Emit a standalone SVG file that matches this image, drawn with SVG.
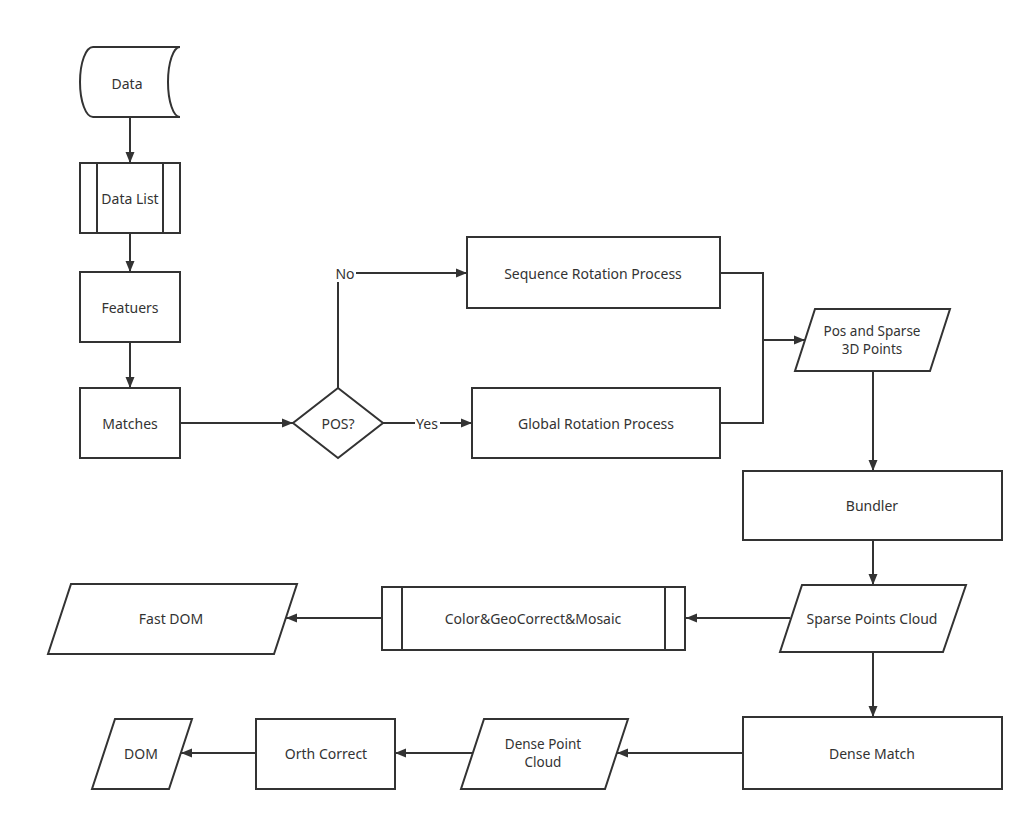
<svg xmlns="http://www.w3.org/2000/svg" width="1034" height="822" viewBox="0 0 1034 822">
<style>
.s{fill:#fff;stroke:#333;stroke-width:2}
.l{fill:none;stroke:#333;stroke-width:2}
.t{font-family:"Noto Sans","Open Sans",sans-serif;font-size:14px;fill:#333;text-anchor:middle;dominant-baseline:central}
.t2{font-size:13.5px}
</style>
<defs>
<marker id="a" markerUnits="userSpaceOnUse" markerWidth="12" markerHeight="10" refX="11" refY="5" orient="auto">
<path d="M0,0.5 L11,5 L0,9.5 z" fill="#333"/>
</marker>
</defs>
<rect width="1034" height="822" fill="#fff"/>
<g id="connectors">
<path class="l" d="M130,117 V163" marker-end="url(#a)"/>
<path class="l" d="M130,233 V272" marker-end="url(#a)"/>
<path class="l" d="M130,342 V388" marker-end="url(#a)"/>
<path class="l" d="M180,423 H293" marker-end="url(#a)"/>
<path class="l" d="M338,388 V273 H467" marker-end="url(#a)"/>
<path class="l" d="M383,423 H472" marker-end="url(#a)"/>
<path class="l" d="M720,273 H763 V340 H805" marker-end="url(#a)"/>
<path class="l" d="M720,423 H763 V340"/>
<path class="l" d="M873,371 V471" marker-end="url(#a)"/>
<path class="l" d="M873,540 V585" marker-end="url(#a)"/>
<path class="l" d="M790,618 H686" marker-end="url(#a)"/>
<path class="l" d="M382,618 H286" marker-end="url(#a)"/>
<path class="l" d="M873,652 V717" marker-end="url(#a)"/>
<path class="l" d="M743,753 H617" marker-end="url(#a)"/>
<path class="l" d="M473,753 H395" marker-end="url(#a)"/>
<path class="l" d="M256,753 H181" marker-end="url(#a)"/>
<rect x="335" y="264" width="21" height="18" fill="#fff"/>
<text class="t" x="345" y="273">No</text>
<rect x="415" y="414" width="25" height="18" fill="#fff"/>
<text class="t" x="427" y="423">Yes</text>
</g>
<g id="data">
<path class="s" d="M93,47 H180 A12,35 0 0 0 180,117 H93 A13,35 0 0 1 93,47 Z"/>
<text class="t" x="127" y="83">Data</text>
</g>
<g id="datalist">
<rect class="s" x="80" y="163" width="100" height="70"/>
<path class="l" d="M97,163 V233 M163,163 V233"/>
<text class="t" x="130" y="198">Data List</text>
</g>
<g id="featuers">
<rect class="s" x="80" y="272" width="100" height="70"/>
<text class="t" x="130" y="307">Featuers</text>
</g>
<g id="matches">
<rect class="s" x="80" y="388" width="100" height="70"/>
<text class="t" x="130" y="423">Matches</text>
</g>
<g id="pos">
<path class="s" d="M338,388 L383,423 L338,458 L293,423 Z"/>
<text class="t" x="338" y="423">POS?</text>
</g>
<g id="seq">
<rect class="s" x="467" y="237" width="253" height="71"/>
<text class="t" x="593" y="273">Sequence Rotation Process</text>
</g>
<g id="global">
<rect class="s" x="472" y="388" width="248" height="70"/>
<text class="t" x="596" y="423">Global Rotation Process</text>
</g>
<g id="possparse">
<path class="s" d="M815,309 H950 L930,371 H795 Z"/>
<text class="t t2" x="872" y="331">Pos and Sparse</text>
<text class="t t2" x="872" y="349">3D Points</text>
</g>
<g id="bundler">
<rect class="s" x="743" y="471" width="259" height="69"/>
<text class="t" x="872" y="505">Bundler</text>
</g>
<g id="sparse">
<path class="s" d="M802,585 H966 L943,652 H780 Z"/>
<text class="t" x="872" y="618">Sparse Points Cloud</text>
</g>
<g id="color">
<rect class="s" x="382" y="587" width="303" height="63"/>
<path class="l" d="M402,587 V650 M665,587 V650"/>
<text class="t" x="533" y="618">Color&amp;GeoCorrect&amp;Mosaic</text>
</g>
<g id="fastdom">
<path class="s" d="M71,584 H297 L274,654 H48 Z"/>
<text class="t" x="171" y="618">Fast DOM</text>
</g>
<g id="densematch">
<rect class="s" x="743" y="717" width="259" height="72"/>
<text class="t" x="872" y="753">Dense Match</text>
</g>
<g id="densepc">
<path class="s" d="M484,719 H628 L605,789 H461 Z"/>
<text class="t t2" x="543" y="744">Dense Point</text>
<text class="t t2" x="543" y="762">Cloud</text>
</g>
<g id="orth">
<rect class="s" x="256" y="719" width="139" height="70"/>
<text class="t" x="326" y="753">Orth Correct</text>
</g>
<g id="dom">
<path class="s" d="M115,719 H192 L169,789 H92 Z"/>
<text class="t" x="141" y="753">DOM</text>
</g>
</svg>
